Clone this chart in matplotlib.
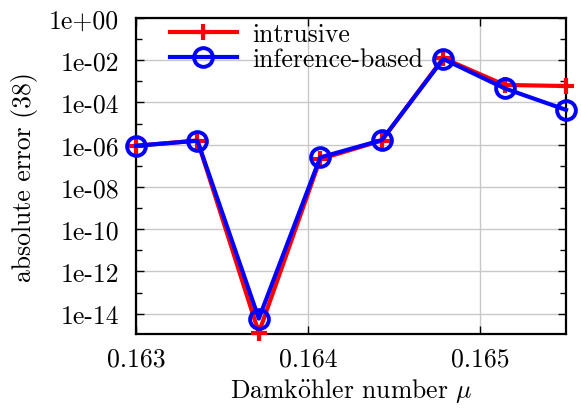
import numpy as np
import matplotlib
matplotlib.use("Agg")
import matplotlib.pyplot as plt
from matplotlib.ticker import FixedLocator, FixedFormatter

# Damkoehler numbers (8 equally spaced samples)
mu = [0.163, 0.163357, 0.163714, 0.164071, 0.164429, 0.164786, 0.165143, 0.1655]

# log10 of the absolute error
log_err_intrusive = [-6.05, -5.80, -14.90, -6.68, -5.80, -1.90, -3.17, -3.22]
log_err_inference = [-6.05, -5.81, -14.23, -6.60, -5.78, -1.94, -3.33, -4.35]

err_intrusive = [10.0 ** v for v in log_err_intrusive]
err_inference = [10.0 ** v for v in log_err_inference]

ytick_exp = [0, -2, -4, -6, -8, -10, -12, -14]
ytick_labels = ["1e+00", "1e-02", "1e-04", "1e-06", "1e-08", "1e-10", "1e-12", "1e-14"]
xticks = [0.163, 0.164, 0.165]
xtick_labels = ["0.163", "0.164", "0.165"]

FS = 18.5
plt.rcParams["font.family"] = "cmr10"
plt.rcParams["mathtext.fontset"] = "cm"
plt.rcParams["axes.unicode_minus"] = False

fig = plt.figure(figsize=(5.81, 4.10), dpi=100)
ax = fig.add_axes([136 / 581, 1 - 335 / 410, (566 - 136) / 581, (335 - 19) / 410])

ax.plot(mu, err_intrusive, color="red", lw=3, marker="+", ms=11.5, mew=3,
        label="intrusive", clip_on=False, zorder=3)
ax.plot(mu, err_inference, color="blue", lw=3, marker="o", ms=13.5, mew=2.8,
        mfc="none", label="inference-based", clip_on=False, zorder=4)

ax.set_yscale("log")
ax.set_xlim(0.163, 0.1655)
ax.set_ylim(10.0 ** -14.96, 1.0)

ax.yaxis.set_major_locator(FixedLocator([10.0 ** e for e in ytick_exp]))
ax.yaxis.set_major_formatter(FixedFormatter(ytick_labels))
ax.yaxis.set_minor_locator(FixedLocator([10.0 ** (e - 1) for e in ytick_exp]))
ax.yaxis.set_minor_formatter(FixedFormatter([]))
ax.xaxis.set_major_locator(FixedLocator(xticks))
ax.xaxis.set_major_formatter(FixedFormatter(xtick_labels))

ax.tick_params(which="both", direction="in", top=True, right=True,
               labelsize=FS, width=1.0)
ax.tick_params(axis="y", pad=12)
ax.tick_params(axis="x", pad=9)
ax.tick_params(which="major", length=6)
ax.tick_params(which="minor", length=4)
ax.grid(True, which="major", color="#c8c8c8", lw=1.0)
ax.set_axisbelow(True)
for s in ax.spines.values():
    s.set_linewidth(1.6)

ax.set_xlabel(r"Damk$\ddot{\mathrm{o}}$hler number $\mu$", fontsize=FS, labelpad=4)
ax.set_ylabel("absolute error (38)", fontsize=FS, labelpad=8)

ax.legend(loc="upper left", frameon=False, fontsize=FS, handlelength=2.6,
          handletextpad=0.6, labelspacing=0.05, borderaxespad=0.0,
          bbox_to_anchor=(0.055, 1.02))

fig.savefig("out.png", dpi=100)
